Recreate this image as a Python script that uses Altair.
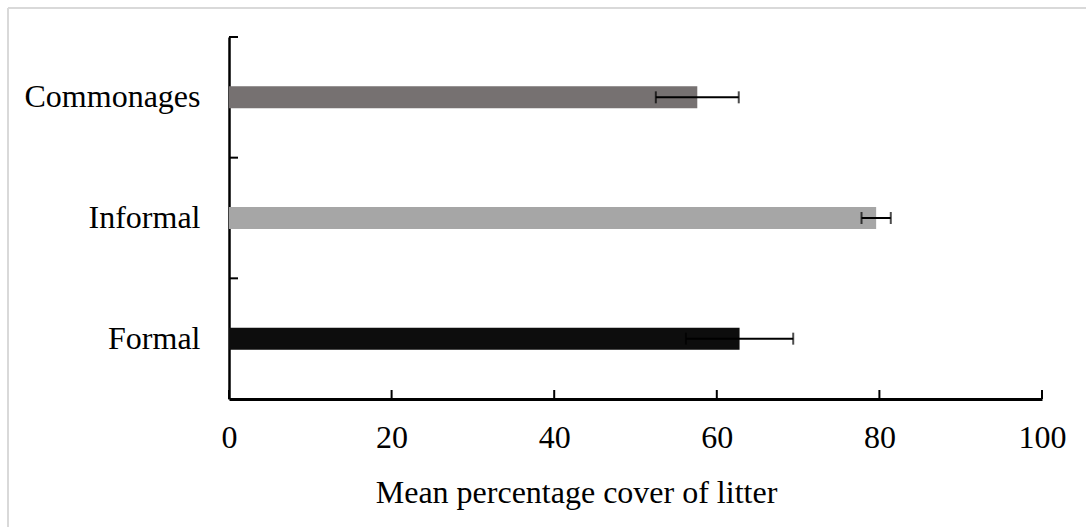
import altair as alt
import pandas as pd

categories = ["Commonages", "Informal", "Formal"]
means = [57.6, 79.6, 62.8]
errors = [5.1, 1.8, 6.6]
bar_colors = ["#767171", "#A6A6A6", "#0D0D0D"]
x_ticks = [0, 20, 40, 60, 80, 100]

df = pd.DataFrame({"cat": categories, "mean": means, "err": errors})
df["lo"] = df["mean"] - df["err"]
df["hi"] = df["mean"] + df["err"]
ticks_df = pd.DataFrame({"v": x_ticks})

W, H = 813, 362
FONT = "Liberation Serif"
FS = 32

yenc = alt.Y("cat:N", sort=categories,
             scale=alt.Scale(domain=categories, paddingInner=0, paddingOuter=0),
             axis=alt.Axis(title=None, ticks=False, labelPadding=29, labelFontSize=FS,
                           labelFont=FONT, labelColor="#000000", domainColor="#000000",
                           domainWidth=2.5, labelBaseline="middle"))
xscale = alt.Scale(domain=[0, 100], nice=False)
xaxis = alt.Axis(values=x_ticks, ticks=False, grid=False, labelPadding=23, labelFontSize=FS,
                 labelFlush=False, labelOverlap=False,
                 labelFont=FONT, labelColor="#000000", domainColor="#000000", domainWidth=3,
                 title="Mean percentage cover of litter", titleFont=FONT, titleFontSize=FS,
                 titleFontWeight="normal", titleColor="#000000", titleX=347, titleY=103,
                 titleAlign="center", titleBaseline="alphabetic")

base = alt.Chart(df)

bars = base.mark_bar(size=22).encode(
    x=alt.X("mean:Q", scale=xscale, axis=xaxis),
    y=yenc,
    color=alt.Color("cat:N", scale=alt.Scale(domain=categories, range=bar_colors), legend=None),
)

err_line = base.mark_rule(color="#000000", strokeWidth=2).encode(
    x=alt.X("lo:Q", scale=xscale), x2="hi:Q",
    y=alt.Y("cat:N", sort=categories),
)
cap_lo = base.mark_tick(color="#000000", thickness=2, size=12, orient="vertical").encode(
    x=alt.X("lo:Q", scale=xscale), y=alt.Y("cat:N", sort=categories))
cap_hi = base.mark_tick(color="#000000", thickness=2, size=12, orient="vertical").encode(
    x=alt.X("hi:Q", scale=xscale), y=alt.Y("cat:N", sort=categories))

xtick_marks = alt.Chart(ticks_df).mark_rule(color="#000000", strokeWidth=2).encode(
    x=alt.X("v:Q", scale=xscale), y=alt.value(H), y2=alt.value(H - 9))

ytick_marks = base.mark_rule(color="#000000", strokeWidth=2).encode(
    y=alt.Y("cat:N", sort=categories, bandPosition=0),
    x=alt.value(0), x2=alt.value(9))

border_top = base.mark_rule(color="#D9D9D9", strokeWidth=2, clip=False).encode(
    x=alt.value(-221), x2=alt.value(860), y=alt.value(-29))
border_left = base.mark_rule(color="#D9D9D9", strokeWidth=2, clip=False).encode(
    x=alt.value(-221), y=alt.value(-29), y2=alt.value(500))

chart = alt.layer(
    border_top, border_left, bars, err_line, cap_lo, cap_hi, xtick_marks, ytick_marks
).properties(
    width=W, height=H,
    autosize=alt.AutoSizeParams(type="none"),
    padding={"left": 229, "top": 37, "right": 44, "bottom": 128},
).configure(background="#FFFFFF").configure_view(stroke=None, strokeWidth=0)

chart.save("out.html", embed_options={"renderer": "svg", "actions": False})
